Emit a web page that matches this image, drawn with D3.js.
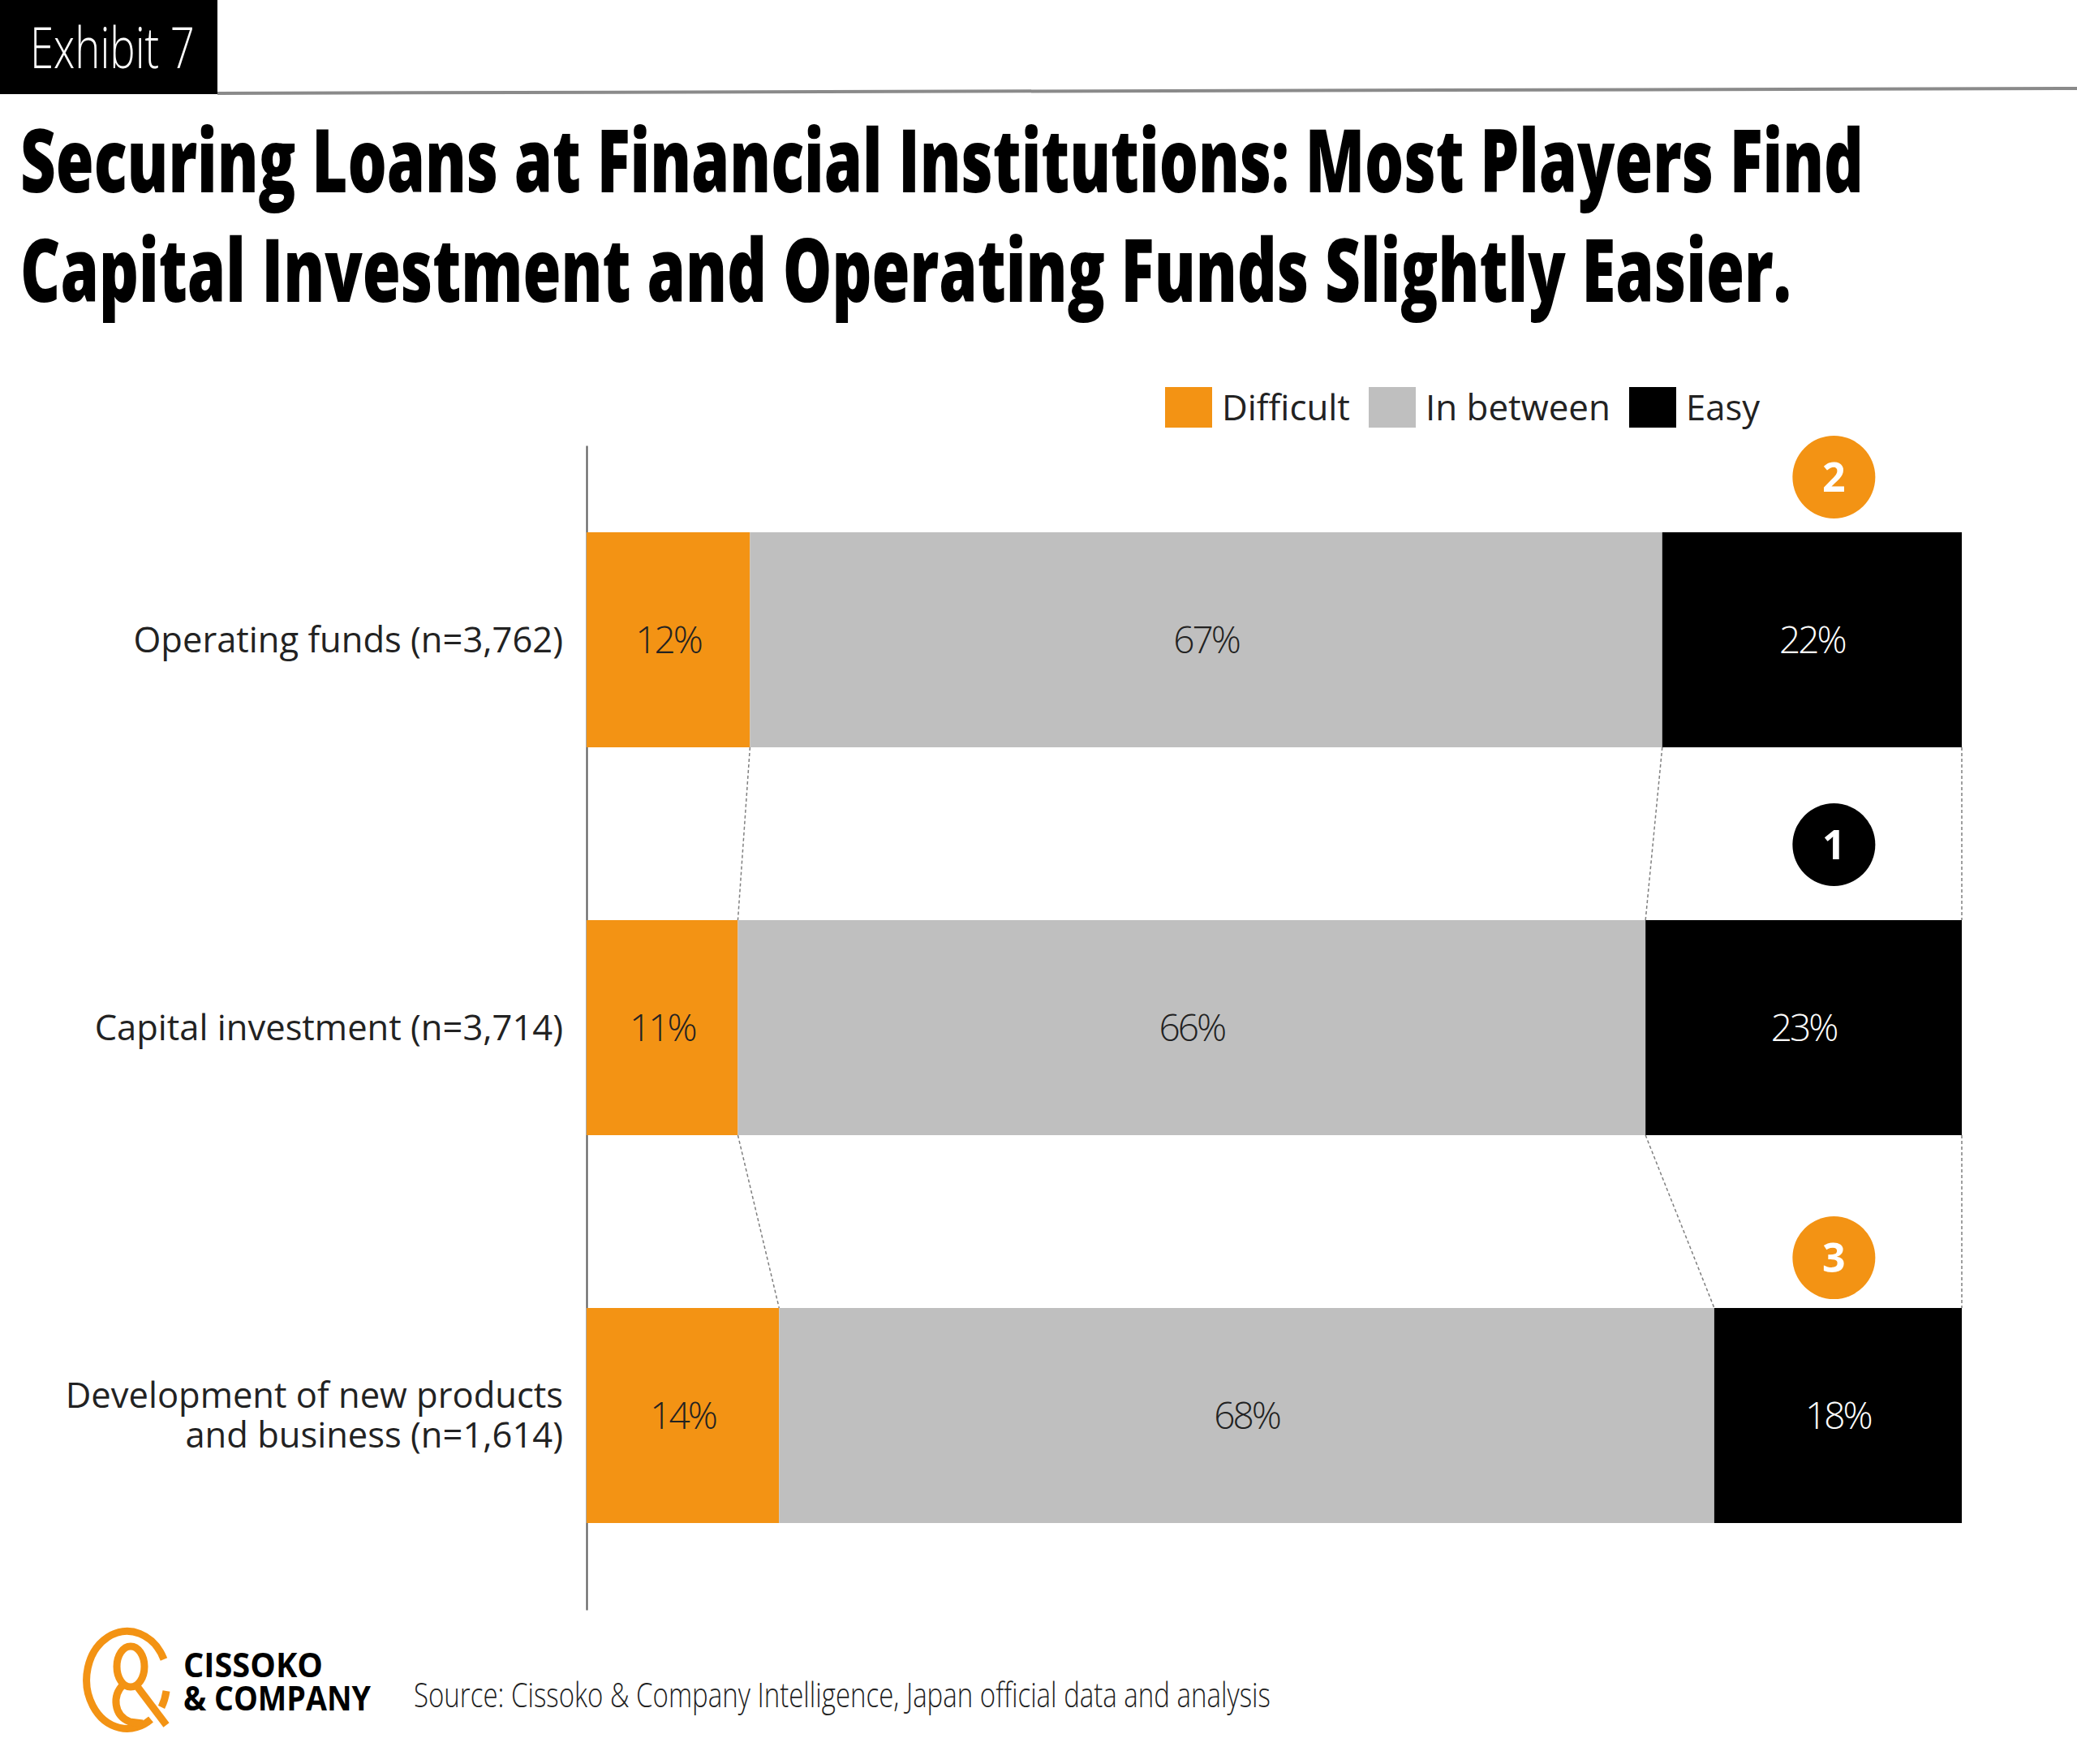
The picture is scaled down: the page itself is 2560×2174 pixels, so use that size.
<!DOCTYPE html>
<html>
<head>
<meta charset="utf-8">
<script src="https://cdn.jsdelivr.net/npm/d3@7"></script>
<style>
  html, body { margin: 0; padding: 0; background: #fff; }
  svg { display: block; }
</style>
</head>
<body>
<svg id="chart"></svg>
<script>
const categories = ["Operating funds (n=3,762)", "Capital investment (n=3,714)", "Development of new products\nand business (n=1,614)"];
const series = ["Difficult", "In between", "Easy"];
const difficult = [12, 11, 14];
const inBetween = [67, 66, 68];
const easy = [22, 23, 18];
const callouts = ["2", "1", "3"];

const W = 2560, H = 2174;
const orange = "#F39314", grey = "#BFBFBF", black = "#000000";

const svg = d3.select("#chart").attr("width", W).attr("height", H);

// the exhibit uses a narrow face, so squeeze text horizontally to its measured width
function fitText(x, y, width, weight, size, fill, str) {
    const t = svg.append("text")
        .style("font-family", "'Open Sans', sans-serif")
        .style("font-weight", weight).style("font-size", size + "px")
        .attr("fill", fill).text(str);
    const w = t.node().getComputedTextLength();
    t.attr("transform", `translate(${x},${y}) scale(${width / w},1)`);
    return t;
}

// header
svg.append("rect").attr("x", 0).attr("y", 0).attr("width", 268).attr("height", 116).attr("fill", "#000");
fitText(37, 84, 203, 300, 70, "#fff", "Exhibit 7");
svg.append("line").attr("x1", 268).attr("y1", 115).attr("x2", W).attr("y2", 109)
    .attr("stroke", "#8a8a8a").attr("stroke-width", 4);

const titleLines = ["Securing Loans at Financial Institutions: Most Players Find",
                    "Capital Investment and Operating Funds Slightly Easier."];
const titleLen = [2272, 2183];
titleLines.forEach((t, i) => fitText(25, 237 + i * 135, titleLen[i], 800, 108, "#000", t));

// scales
const rows = categories.map((c, i) => ({category: c, "Difficult": difficult[i], "In between": inBetween[i], "Easy": easy[i]}));
const stacked = d3.stack().keys(series).offset(d3.stackOffsetExpand)(rows);

const xscale = d3.scaleLinear().domain([0, 1]).range([723, 2418]);
const yscale = d3.scaleBand().domain(categories).range([549, 1984])
    .paddingInner(0.4456).paddingOuter(0.2238);
const color = d3.scaleOrdinal().domain(series).range([orange, grey, black]);
const bw = yscale.bandwidth();

// axis
const yaxis = d3.axisLeft(yscale).tickSize(0).tickSizeOuter(0).tickPadding(29);
const yaxis_group = svg.append("g").attr("transform", "translate(723,0)").call(yaxis);
yaxis_group.select(".domain").attr("stroke", "#555").attr("stroke-width", 2);
yaxis_group.selectAll(".tick text").each(function(d) {
    const el = d3.select(this);
    const lines = d.split("\n");
    el.text(null)
      .style("font-family", "'Open Sans', sans-serif").style("font-size", "43.5px")
      .attr("fill", "#222").attr("dy", null);
    lines.forEach((ln, k) => {
        el.append("tspan").attr("x", -29)
          .attr("dy", k === 0 ? `${0.35 - (lines.length - 1) * 0.56}em` : "1.12em")
          .text(ln);
    });
});

// connectors between bars
const conn = svg.append("g");
for (let i = 0; i < categories.length - 1; i++) {
    stacked.forEach(layer => {
        conn.append("line")
            .attr("x1", xscale(layer[i][1])).attr("y1", yscale(categories[i]) + bw)
            .attr("x2", xscale(layer[i + 1][1])).attr("y2", yscale(categories[i + 1]))
            .attr("stroke", "#808080").attr("stroke-width", 1.5).attr("stroke-dasharray", "4,3");
    });
}

// bars
const layers = svg.append("g").selectAll("g").data(stacked).join("g").attr("fill", d => color(d.key));
layers.selectAll("rect").data(d => d).join("rect")
    .attr("x", d => xscale(d[0]))
    .attr("y", d => yscale(d.data.category))
    .attr("width", d => xscale(d[1]) - xscale(d[0]))
    .attr("height", bw);

layers.selectAll("text").data(d => d.map(v => ({v, key: d.key}))).join("text")
    .attr("x", d => (xscale(d.v[0]) + xscale(d.v[1])) / 2)
    .attr("y", d => yscale(d.v.data.category) + bw / 2)
    .attr("dy", "0.35em")
    .attr("text-anchor", "middle")
    .style("font-family", "'Open Sans', sans-serif").style("font-weight", 300).style("font-size", "46px")
    .style("letter-spacing", "-3px")
    .attr("fill", d => d.key === "Easy" ? "#fff" : "#222")
    .text(d => `${d.v.data[d.key]}%`);

// numbered callouts
const calloutY = [68, 93, 62];
const calloutFill = [orange, black, orange];
callouts.forEach((c, i) => {
    const cy = yscale(categories[i]) - calloutY[i];
    const cx = xscale(0.907);
    svg.append("circle").attr("cx", cx).attr("cy", cy).attr("r", 51).attr("fill", calloutFill[i]);
    svg.append("text").attr("x", cx).attr("y", cy).attr("dy", "0.36em").attr("text-anchor", "middle")
        .style("font-family", "'Open Sans', sans-serif").style("font-weight", 700).style("font-size", "50px")
        .attr("fill", "#fff").text(c);
});

// legend
const legendW = [158, 228, 91];
let lx = 1436;
series.forEach((s, i) => {
    svg.append("rect").attr("x", lx).attr("y", 477).attr("width", 58).attr("height", 50).attr("fill", color(s));
    fitText(lx + 70, 518, legendW[i], 400, 43, "#222", s);
    lx += 70 + legendW[i] + 23;
});

// footer logo + source
const logo = svg.append("g").attr("fill", "none").attr("stroke", orange).attr("stroke-width", 9);
logo.append("path").attr("d", "M 202 2045 A 50 60 0 1 0 186 2119");
logo.append("path").attr("d", "M 205 2084 A 50 60 0 0 1 199 2104");
logo.append("ellipse").attr("cx", 161).attr("cy", 2054).attr("rx", 17).attr("ry", 25);
logo.append("path").attr("d", "M 168 2077 L 205 2126");
logo.append("path").attr("d", "M 152 2076 C 138 2090, 140 2114, 160 2122 L 176 2124");
fitText(226, 2067, 172, 700, 42, "#000", "CISSOKO");
fitText(226, 2108, 231, 700, 42, "#000", "& COMPANY");
fitText(510, 2104, 1056, 300, 43, "#222", "Source: Cissoko & Company Intelligence, Japan official data and analysis");
</script>
</body>
</html>
